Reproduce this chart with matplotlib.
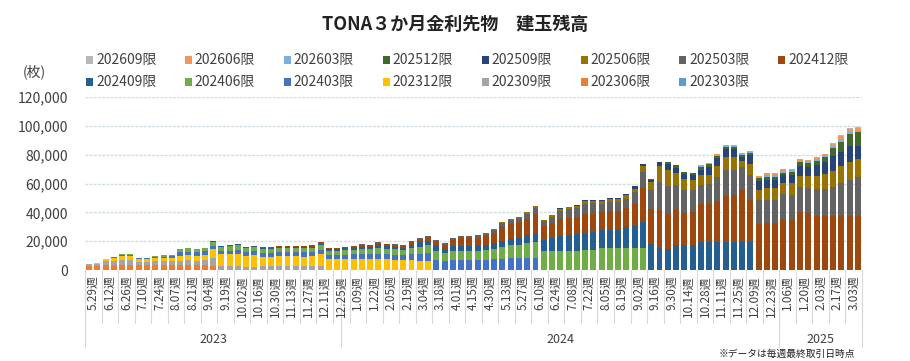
import numpy as np
import matplotlib.pyplot as plt
from matplotlib.patches import Rectangle

plt.rcParams['font.family'] = ['Noto Sans CJK JP', 'DejaVu Sans']

# weekly open interest (thousand contracts), one value per week, 94 weeks
# 2023-05-29 week ... 2025-03-10 week
c2303 = [0] * 94
c2306 = [2.8, 2.8, 3.2, 3.3, 3.5, 3.5, 3.3, 3.3, 3.3, 3.3, 3.3, 3.5, 3.5, 3.5, 3.5, 2.5] + [0] * 78
c2309 = [1.1, 1.5, 2.7, 3.0, 3.5, 3.5, 2.2, 2.2, 2.8, 2.8,
         2.8, 3.0, 3.2, 3.0, 3.2, 6.0, 2.8, 2.8, 2.8, 2.3,
         2.3, 2.5, 2.5, 2.6, 2.6, 2.6, 2.5, 2.5, 3.0] + [0] * 65
c2312 = [0, 0.3, 1.5, 2.0, 2.8, 2.8, 1.8, 1.8, 2.2, 2.2,
         2.4, 3.5, 3.5, 3.5, 3.8, 5.8, 8.0, 8.3, 8.5, 7.5,
         7.8, 6.6, 6.5, 6.8, 6.8, 6.8, 6.7, 6.9, 7.8, 7.5,
         7.5, 7.5, 7.5, 7.5, 7.4, 7.5, 7.3, 7.2, 7.0, 7.2,
         6.5, 6.5] + [0] * 52
c2403 = [0, 0, 0.5, 0.7, 0.8, 0.8, 0.7, 0.7, 1.0, 1.0,
         1.2, 2.3, 2.5, 2.3, 2.5, 2.3, 2.3, 2.3, 2.8, 2.8,
         2.8, 2.8, 2.8, 2.9, 3.0, 3.0, 3.0, 3.0, 3.0, 3.0,
         3.0, 3.2, 3.3, 3.5, 3.5, 3.8, 3.6, 3.5, 3.4, 3.8,
         4.8, 5.3, 7.1, 6.5, 7.0, 6.8, 6.8, 6.8, 7.0, 7.3,
         7.8, 8.0, 8.0, 8.0, 8.0] + [0] * 39
c2406 = [0, 0, 0, 0, 0.4, 0.4, 0.3, 0.3, 0.4, 0.9,
         0.5, 2.5, 2.5, 2.5, 2.5, 2.8, 3.0, 3.0, 3.0, 3.0,
         3.0, 2.6, 2.6, 2.7, 2.8, 2.8, 2.8, 2.9, 3.2, 2.8,
         2.8, 3.0, 3.2, 3.5, 3.5, 4.0, 3.8, 3.7, 3.5, 4.2,
         5.0, 5.5, 5.8, 5.2, 6.0, 6.5, 6.3, 6.5, 6.7, 7.3,
         8.0, 9.0, 9.5, 10.5, 11.5, 12.9, 13.0, 13.5, 13.5, 13.5,
         14.0, 14.0, 15.0, 15.6, 15.6, 15.0, 15.0, 15.0] + [0] * 26
c2409 = [0] * 15 + [0.6, 0.5, 0.6, 0.7, 0.6,
         0.7, 1.0, 1.0, 1.0, 1.0, 1.0, 1.0, 1.0, 1.3, 1.3,
         1.3, 1.4, 1.5, 1.6, 1.6, 1.8, 1.7, 1.6, 1.5, 2.0,
         2.8, 2.5, 3.5, 2.8, 3.5, 3.6, 3.6, 3.7, 3.8, 4.2,
         4.5, 4.8, 5.0, 5.5, 6.5, 8.0, 9.0, 10.0, 10.5, 11.5,
         12.0, 12.5, 12.6, 12.4, 12.4, 14.5, 15.4, 18.4, 18.0, 15.0,
         14.3, 17.3, 17.2, 17.3, 19.6, 19.6, 19.6, 19.6, 19.6, 19.6,
         19.6] + [0] * 13
c2412 = [0] * 21 + [0.6, 0.5, 0.6, 0.6, 0.6, 0.6, 0.7, 0.8, 0.8,
         0.8, 0.8, 0.9, 1.3, 1.2, 1.6, 1.4, 1.3, 1.2, 2.0,
         2.3, 2.8, 3.0, 2.8, 4.0, 5.0, 5.2, 5.5, 5.8, 7.0,
         9.5, 10.0, 10.5, 11.5, 13.0, 9.7, 10.5, 12.0, 12.0, 12.0,
         12.5, 12.5, 12.6, 12.6, 12.8, 13.8, 15.6, 23.7, 24.6, 26.5,
         24.8, 24.2, 22.3, 23.0, 26.0, 26.5, 28.3, 31.5, 32.2, 36.1,
         29.2, 32.0, 32.7, 32.4, 35.4, 34.7, 40.0, 39.3, 37.3, 37.3,
         37.3, 37.3, 37.3, 37.3]
c2503 = [0] * 31 + [0.2, 0.2, 0.3, 0.3, 0.6, 0.4, 0.4, 0.4, 0.8,
         1.1, 1.0, 1.4, 1.1, 1.6, 1.7, 1.5, 1.6, 1.8, 2.0,
         2.6, 2.8, 3.0, 3.3, 4.0, 3.5, 4.5, 5.5, 6.0, 6.0,
         7.5, 7.3, 5.8, 6.4, 6.6, 6.2, 8.0, 10.8, 12.7, 19.5,
         19.5, 17.3, 16.1, 15.0, 13.1, 13.8, 16.6, 18.4, 17.3, 15.6,
         16.8, 16.8, 16.1, 16.3, 17.3, 17.5, 17.3, 17.5, 18.9, 18.9,
         20.0, 23.0, 25.3, 27.0]
c2506 = [0] * 45 + [0.3, 0.3, 0.3, 0.4, 0.5,
         0.7, 0.8, 1.0, 1.2, 1.6, 0.5, 1.0, 1.3, 1.4, 1.5,
         1.8, 1.8, 1.8, 2.1, 1.8, 2.3, 2.5, 3.9, 5.8, 10.8,
         10.8, 8.5, 7.6, 6.9, 6.9, 6.2, 7.4, 8.7, 9.2, 4.5,
         8.1, 6.9, 7.8, 8.1, 7.6, 8.1, 8.1, 8.5, 9.2, 10.4,
         11.5, 12.0, 12.4, 12.7]
c2509 = [0] * 55 + [0.2, 0.4, 0.5, 0.5, 0.5,
         0.7, 0.4, 0.5, 0.8, 0.7, 1.1, 1.5, 1.8, 1.6, 3.0,
         4.1, 3.7, 3.4, 3.4, 3.9, 5.3, 6.0, 5.5, 5.7, 2.8,
         5.8, 6.2, 6.0, 5.8, 5.5, 5.5, 6.9, 6.4, 7.4, 8.1,
         10.4, 9.7, 11.0, 9.2]
c2512 = [0] * 68 + [0.6, 0.4,
         1.3, 1.5, 1.7, 1.8, 2.0, 1.8, 1.5, 1.5, 1.3, 1.4,
         1.5, 1.6, 1.7, 1.8, 1.8, 2.1, 2.3, 2.3, 3.0, 3.5,
         5.3, 6.9, 8.1, 9.2]
c2603 = [0] * 74 + [0.6, 0.5, 0.6, 0.8, 0.7, 0.6,
         0.8, 0.9, 1.4, 1.3, 1.3, 1.3, 1.2, 1.2, 1.4, 1.3,
         1.5, 1.8, 1.6, 1.2]
c2606 = [0] * 74 + [0.6, 0.6, 0.5, 0.7, 0.7, 0.5,
         0.8, 0.9, 1.3, 1.3, 1.1, 1.2, 1.0, 1.2, 1.2, 1.2,
         1.6, 2.2, 1.8, 1.6]
c2609 = [0] * 90 + [0.3, 0.5, 0.7, 0.9]

contracts = ['202303限', '202306限', '202309限', '202312限', '202403限', '202406限',
             '202409限', '202412限', '202503限', '202506限', '202509限', '202512限',
             '202603限', '202606限', '202609限']
series = [c2303, c2306, c2309, c2312, c2403, c2406, c2409, c2412,
          c2503, c2506, c2509, c2512, c2603, c2606, c2609]
colors = ['#5B9BD5', '#ED7D31', '#A5A5A5', '#FFC000', '#4472C4', '#70AD47',
          '#255E91', '#9E480E', '#636363', '#997300', '#264478', '#43682B',
          '#7CAFDD', '#F1975A', '#B7B7B7']

# every second week is labelled
week_labels = ['5.29週', '6.12週', '6.26週', '7.10週', '7.24週', '8.07週', '8.21週', '9.04週',
               '9.19週', '10.02週', '10.16週', '10.30週', '11.13週', '11.27週', '12.11週',
               '12.25週', '1.09週', '1.22週', '2.05週', '2.19週', '3.04週', '3.18週',
               '4.01週', '4.15週', '4.30週', '5.13週', '5.27週', '6.10週', '6.24週',
               '7.08週', '7.22週', '8.05週', '8.19週', '9.02週', '9.16週', '9.30週',
               '10.14週', '10.28週', '11.11週', '11.25週', '12.09週', '12.23週',
               '1.06週', '1.20週', '2.03週', '2.17週', '3.03週']
years = ['2023', '2024', '2025']
weeks_per_year = [31, 53, 10]

W, H = 910, 361


def fx(px):
    return px / W


def fy(py):
    return 1 - py / H


fig = plt.figure(figsize=(W / 100, H / 100), dpi=100)
ax = fig.add_axes([fx(85), fy(270), fx(777), 173 / H])

n = len(c2306)
x = np.arange(n)
bottom = np.zeros(n)
for name, vals, col in zip(contracts, series, colors):
    v = np.array(vals) * 1000
    ax.bar(x, v, 0.72, bottom=bottom, color=col, label=name, linewidth=0)
    bottom += v

ax.set_xlim(-0.5, n - 0.5)
ax.set_ylim(0, 120000)
ax.set_yticks(np.arange(0, 120001, 20000))
ax.set_yticklabels([f'{t:,}' for t in range(0, 120001, 20000)], fontsize=10, color='#404040')
ax.tick_params(axis='y', length=0, pad=12)
ax.set_xticks([])
for s in ax.spines.values():
    s.set_visible(False)
ax.set_axisbelow(True)
ax.yaxis.grid(True, color='#CFDDE3', linestyle=(0, (2, 1)), linewidth=1)

# category axis: week labels, pair separators, year groups
tr = ax.get_xaxis_transform()
for k, lab in enumerate(week_labels):
    ax.text(2 * k + 0.5, -0.03, lab, rotation=90, ha='center', va='top',
            fontsize=8.5, color='#404040', transform=tr)
for k in range(0, n + 1, 2):
    ax.plot([k - 0.5, k - 0.5], [0, -0.305], color='#D9D9D9', lw=0.8,
            transform=tr, clip_on=False)
start = 0
for yr, cnt in zip(years, weeks_per_year):
    ax.plot([start - 0.5, start - 0.5], [0, -0.445], color='#D9D9D9', lw=0.8,
            transform=tr, clip_on=False)
    ax.text(start + cnt / 2 - 0.5, -0.40, yr, ha='center', va='center',
            fontsize=9, color='#404040', transform=tr)
    start += cnt
ax.plot([n - 0.5, n - 0.5], [0, -0.445], color='#D9D9D9', lw=0.8,
        transform=tr, clip_on=False)

# legend drawn by hand in two rows, newest contract first
order = contracts[::-1]
col_order = colors[::-1]
for i, (name, col) in enumerate(zip(order, col_order)):
    row, c = divmod(i, 8)
    mx = 86 + c * 98.9
    my = 60 + row * 22
    fig.add_artist(Rectangle((fx(mx), fy(my + 3.5)), 7 / W, 7 / H,
                             transform=fig.transFigure, color=col, lw=0))
    fig.text(fx(mx + 10), fy(my), name, fontsize=10, va='center', color='#404040')

fig.text(0.5, fy(24), 'TONA３か月金利先物　建玉残高', ha='center', va='center',
         fontsize=13, fontweight='bold', color='#222222')
fig.text(fx(23), fy(72), '(枚)', va='center', fontsize=10, color='#404040')
fig.text(fx(855), fy(354), '※データは毎週最終取引日時点', ha='right', va='center',
         fontsize=7, color='#222222')

fig.savefig('out.png', dpi=100, facecolor='white')
